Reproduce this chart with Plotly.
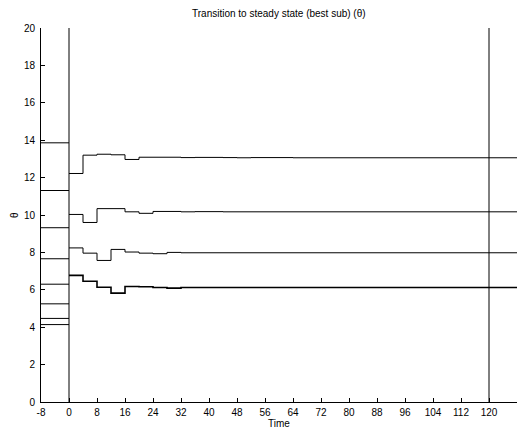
import plotly.graph_objects as go

# Time grid (steps every 4 time units)
times = list(range(0, 132, 4))  # 0..128

# Initial values (drawn from t=-8 to t=0)
init_values = [13.86, 11.31, 9.32, 7.66, 6.30, 5.25, 4.47, 4.14]

series_top = [12.22, 13.20, 13.25, 13.22, 12.97, 13.09, 13.09, 13.09, 13.07, 13.08,
              13.08, 13.07, 13.06, 13.07, 13.07, 13.07, 13.06, 13.06, 13.06, 13.06,
              13.06, 13.06, 13.06, 13.06, 13.06, 13.06, 13.06, 13.06, 13.06, 13.06,
              13.06, 13.06, 13.06]
series_2 = [10.03, 9.60, 10.34, 10.34, 10.17, 10.09, 10.19, 10.19, 10.17, 10.18,
            10.18, 10.17, 10.17, 10.17, 10.17, 10.17, 10.17, 10.17, 10.17, 10.17,
            10.17, 10.17, 10.17, 10.17, 10.17, 10.17, 10.17, 10.17, 10.17, 10.17,
            10.17, 10.17, 10.17]
series_3 = [8.24, 7.96, 7.57, 8.16, 8.02, 7.96, 7.93, 8.00, 7.98, 7.98,
            7.98, 7.98, 7.98, 7.98, 7.98, 7.98, 7.98, 7.98, 7.98, 7.98,
            7.98, 7.98, 7.98, 7.98, 7.98, 7.98, 7.98, 7.98, 7.98, 7.98,
            7.98, 7.98, 7.98]
series_4 = [6.77, 6.46, 6.14, 5.82, 6.18, 6.16, 6.12, 6.09, 6.12, 6.12,
            6.12, 6.12, 6.12, 6.12, 6.12, 6.12, 6.12, 6.12, 6.12, 6.12,
            6.12, 6.12, 6.12, 6.12, 6.12, 6.12, 6.12, 6.12, 6.12, 6.12,
            6.12, 6.12, 6.12]

marker_times = [0, 120]
x_start, x_end = -8, 128
y_min, y_max = 0, 20
x_ticks = list(range(-8, 121, 8))
y_ticks = list(range(0, 21, 2))

fig = go.Figure()

# initial level lines
for v in init_values:
    fig.add_trace(go.Scatter(x=[x_start, 0], y=[v, v], mode="lines",
                             line=dict(color="black", width=1), showlegend=False,
                             hoverinfo="skip"))

# vertical markers
for t in marker_times:
    fig.add_trace(go.Scatter(x=[t, t], y=[y_min, y_max], mode="lines",
                             line=dict(color="black", width=1), showlegend=False,
                             hoverinfo="skip"))

for s, w in [(series_top, 1), (series_2, 1), (series_3, 1), (series_4, 1.6)]:
    fig.add_trace(go.Scatter(x=times, y=s, mode="lines", line_shape="hv",
                             line=dict(color="black", width=w), showlegend=False))

font = dict(family="Liberation Sans, Arial, sans-serif", size=10, color="black")

fig.update_layout(
    width=523, height=432,
    margin=dict(l=41, r=6, t=28, b=30),
    paper_bgcolor="white", plot_bgcolor="white",
    font=font,
    showlegend=False,
    xaxis=dict(range=[x_start, x_end], tickvals=x_ticks, ticktext=[str(t) for t in x_ticks],
               ticks="inside", ticklen=4, tickcolor="black", showline=True,
               linecolor="black", linewidth=1, showgrid=False, zeroline=False,
               tickfont=font, ticklabelstandoff=1),
    yaxis=dict(range=[y_min, y_max], tickvals=y_ticks, ticks="inside", ticklen=4,
               tickcolor="black", showline=True, linecolor="black", linewidth=1,
               showgrid=False, zeroline=False, tickfont=font, ticklabelstandoff=3),
    annotations=[
        dict(text="Transition to steady state (best sub) (θ)", x=0.5, y=1, xref="paper",
             yref="paper", yanchor="bottom", yshift=7, showarrow=False, font=font),
        dict(text="Time", x=0.5, y=0, xref="paper", yref="paper", yanchor="top",
             yshift=-14, showarrow=False, font=font),
        dict(text="θ", x=0, y=0.5, xref="paper", yref="paper", xanchor="center",
             xshift=-27, textangle=-90, showarrow=False, font=font),
    ],
)

fig.write_html("out.html")
